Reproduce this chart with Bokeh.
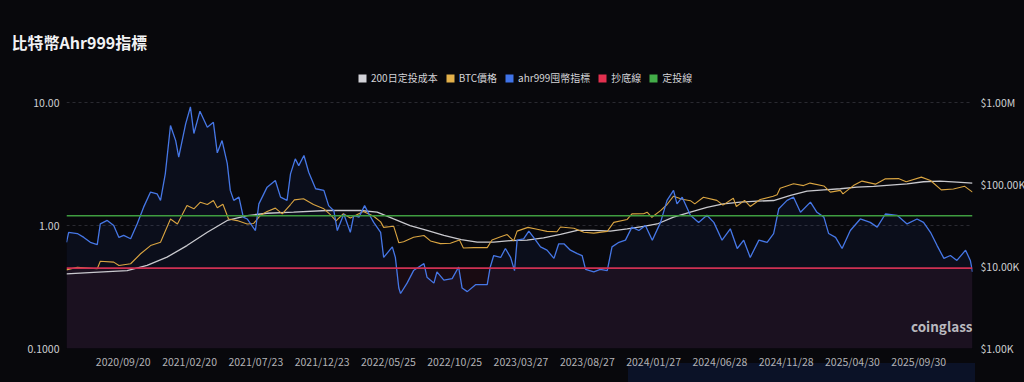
import math
import pandas as pd
from bokeh.plotting import figure
from bokeh.models import (Range1d, LogScale, LogAxis, FixedTicker, CustomJSTickFormatter,
                          DatetimeTickFormatter, Span, BoxAnnotation, Legend, LegendItem,
                          Label, ColumnDataSource)
from bokeh.embed import file_html
from bokeh.resources import INLINE

# ---------------- data ----------------
TITLE = "比特幣Ahr999指標"
LEGEND_LABELS = ["200日定投成本", "BTC價格", "ahr999囤幣指標", "抄底線", "定投線"]

X_START = "2020-05-12"
X_END = "2026-02-01"
TICK_DATES = ["2020-09-20", "2021-02-20", "2021-07-23", "2021-12-23", "2022-05-25",
              "2022-10-25", "2023-03-27", "2023-08-27", "2024-01-27", "2024-06-28",
              "2024-11-28", "2025-04-30", "2025-09-30"]
LEFT_TICKS = [0.1, 1, 10]
RIGHT_TICKS = [1e3, 1e4, 1e5, 1e6]

AHR_DATES = [
    "2020-05-12", "2020-05-17", "2020-06-06", "2020-06-21", "2020-07-06", "2020-07-22",
    "2020-07-29", "2020-08-14", "2020-08-29", "2020-09-10", "2020-09-21", "2020-10-07",
    "2020-10-22", "2020-11-06", "2020-11-22", "2020-12-07", "2020-12-15", "2020-12-26",
    "2021-01-07", "2021-01-19", "2021-01-26", "2021-02-11", "2021-02-22", "2021-03-02",
    "2021-03-16", "2021-04-02", "2021-04-16", "2021-04-25", "2021-05-06", "2021-05-18",
    "2021-05-25", "2021-06-02", "2021-06-14", "2021-06-24", "2021-07-03", "2021-07-22",
    "2021-07-30", "2021-08-18", "2021-09-06", "2021-09-18", "2021-10-03", "2021-10-11",
    "2021-10-22", "2021-10-30", "2021-11-11", "2021-11-22", "2021-12-08", "2021-12-27",
    "2022-01-07", "2022-01-19", "2022-01-27", "2022-02-11", "2022-02-26", "2022-03-06",
    "2022-03-18", "2022-03-31", "2022-04-10", "2022-04-21", "2022-05-07", "2022-05-14",
    "2022-06-03", "2022-06-10", "2022-06-18", "2022-06-22", "2022-07-07", "2022-07-22",
    "2022-08-03", "2022-08-15", "2022-08-22", "2022-09-07", "2022-09-14", "2022-09-30",
    "2022-10-19", "2022-11-03", "2022-11-11", "2022-11-23", "2022-12-12", "2023-01-08",
    "2023-01-15", "2023-01-23", "2023-02-08", "2023-02-19", "2023-03-03", "2023-03-12",
    "2023-03-18", "2023-04-02", "2023-04-14", "2023-04-25", "2023-05-11", "2023-05-26",
    "2023-06-11", "2023-06-22", "2023-07-04", "2023-07-19", "2023-08-04", "2023-08-15",
    "2023-08-23", "2023-09-11", "2023-09-26", "2023-10-12", "2023-10-23", "2023-11-08",
    "2023-11-23", "2023-12-08", "2023-12-24", "2024-01-08", "2024-01-24", "2024-02-12",
    "2024-02-27", "2024-03-13", "2024-03-21", "2024-04-02", "2024-04-21", "2024-05-10",
    "2024-05-29", "2024-06-14", "2024-07-03", "2024-07-22", "2024-08-07", "2024-08-22",
    "2024-09-06", "2024-09-26", "2024-10-15", "2024-10-30", "2024-11-11", "2024-11-30",
    "2024-12-15", "2024-12-31", "2025-01-23", "2025-02-07", "2025-02-23", "2025-03-06",
    "2025-03-22", "2025-04-06", "2025-04-25", "2025-05-18", "2025-06-10", "2025-06-26",
    "2025-07-15", "2025-08-11", "2025-09-03", "2025-09-26", "2025-10-11", "2025-10-27",
    "2025-11-11", "2025-11-27", "2025-12-12", "2025-12-27", "2026-01-16", "2026-01-27",
    "2026-02-01"]
AHR_VALUES = [
    0.73, 0.88, 0.86, 0.80, 0.73, 0.70,
    1.03, 1.10, 1.00, 0.80, 0.83, 0.78,
    1.03, 1.41, 1.87, 1.81, 1.60, 2.63,
    6.5, 4.9, 3.6, 6.7, 9.2, 5.6,
    8.5, 6.3, 6.9, 3.9, 4.9, 3.2,
    1.93, 1.60, 1.70, 1.17, 1.13, 0.91,
    1.50, 2.05, 2.32, 1.70, 1.60, 2.63,
    3.48, 3.07, 3.71, 2.71, 1.99, 1.93,
    1.45, 1.32, 0.91, 1.24, 0.88, 1.21,
    1.17, 1.45, 1.24, 1.06, 0.88, 0.55,
    0.67, 0.55, 0.31, 0.28, 0.34, 0.43,
    0.46, 0.49, 0.38, 0.34, 0.42, 0.36,
    0.37, 0.46, 0.31, 0.29, 0.33, 0.33,
    0.46, 0.57, 0.55, 0.65, 0.55, 0.43,
    0.76, 0.78, 0.90, 0.80, 0.67, 0.63,
    0.54, 0.71, 0.71, 0.63, 0.59, 0.57,
    0.44, 0.42, 0.44, 0.43, 0.67, 0.73,
    0.76, 0.97, 0.91, 1.00, 0.76, 1.06,
    1.60, 1.93, 1.50, 1.70, 1.21, 1.06,
    1.21, 1.06, 0.76, 0.94, 0.65, 0.76,
    0.55, 0.76, 0.73, 0.86, 1.37, 1.60,
    1.70, 1.28, 1.55, 1.28, 1.17, 0.86,
    0.80, 0.65, 0.91, 1.13, 1.06, 0.97,
    1.24, 1.21, 1.03, 1.13, 1.06, 0.88,
    0.69, 0.54, 0.57, 0.52, 0.63, 0.52,
    0.42]

BTC_DATES = [
    "2020-05-12", "2020-06-06", "2020-07-22", "2020-07-29", "2020-08-29", "2020-09-10",
    "2020-10-07", "2020-10-30", "2020-11-22", "2020-12-15", "2021-01-07", "2021-01-23",
    "2021-02-14", "2021-03-02", "2021-03-17", "2021-04-02", "2021-04-16", "2021-04-25",
    "2021-05-08", "2021-05-21", "2021-06-10", "2021-07-03", "2021-07-18", "2021-08-02",
    "2021-08-18", "2021-09-06", "2021-09-22", "2021-10-11", "2021-10-20", "2021-11-10",
    "2021-12-03", "2021-12-27", "2022-01-11", "2022-01-24", "2022-02-10", "2022-02-26",
    "2022-03-28", "2022-04-21", "2022-05-07", "2022-05-14", "2022-06-06", "2022-06-18",
    "2022-06-29", "2022-07-22", "2022-08-15", "2022-08-30", "2022-09-22", "2022-10-15",
    "2022-11-05", "2022-11-14", "2022-12-08", "2023-01-08", "2023-01-19", "2023-02-08",
    "2023-02-23", "2023-03-10", "2023-03-18", "2023-04-12", "2023-05-03", "2023-05-26",
    "2023-06-18", "2023-06-26", "2023-07-27", "2023-08-19", "2023-09-11", "2023-10-12",
    "2023-10-27", "2023-11-27", "2023-12-08", "2024-01-04", "2024-01-12", "2024-01-23",
    "2024-02-12", "2024-02-27", "2024-03-13", "2024-04-02", "2024-04-21", "2024-05-01",
    "2024-05-21", "2024-06-21", "2024-07-05", "2024-07-29", "2024-08-05", "2024-08-24",
    "2024-09-06", "2024-09-29", "2024-10-29", "2024-11-07", "2024-11-14", "2024-12-15",
    "2025-01-07", "2025-01-22", "2025-02-23", "2025-03-10", "2025-04-02", "2025-04-08",
    "2025-05-02", "2025-05-22", "2025-06-22", "2025-07-14", "2025-08-14", "2025-09-01",
    "2025-10-06", "2025-10-27", "2025-11-21", "2025-12-19", "2026-01-14", "2026-02-01"]
BTC_PRICES = [
    9100, 9800, 9400, 11600, 11300, 10300,
    10800, 14300, 18000, 19800, 38000, 33000,
    55500, 50500, 60800, 57000, 63800, 52000,
    57500, 38000, 36300, 33000, 33500, 41800,
    47000, 51500, 43800, 57000, 65000, 67000,
    57000, 50500, 43000, 36000, 44000, 39000,
    47000, 41000, 35000, 30000, 31000, 19500,
    20000, 22700, 23900, 20500, 19000, 19200,
    21000, 16800, 17000, 17000, 21000, 23000,
    24500, 20500, 27000, 30000, 28500, 26800,
    26500, 30300, 29300, 26200, 25500, 26800,
    34500, 37500, 43800, 44000, 46000, 39800,
    48000, 57000, 72000, 66000, 63500, 58000,
    70000, 64000, 56000, 68000, 54000, 64000,
    54000, 65500, 72000, 75000, 90000, 102000,
    97000, 104000, 96000, 80800, 84700, 77000,
    97000, 110000, 101000, 117000, 118000, 108000,
    123000, 112000, 86000, 88000, 95000, 80800]

COST_DATES = [
    "2020-05-12", "2020-07-14", "2020-09-29", "2020-11-14", "2020-12-30", "2021-02-14",
    "2021-04-02", "2021-05-18", "2021-07-03", "2021-08-18", "2021-10-18", "2022-01-03",
    "2022-03-21", "2022-04-29", "2022-06-06", "2022-07-14", "2022-08-22", "2022-09-30",
    "2022-11-09", "2022-12-16", "2023-01-23", "2023-03-03", "2023-04-10", "2023-05-18",
    "2023-06-26", "2023-08-04", "2023-09-11", "2023-10-19", "2023-11-27", "2024-01-04",
    "2024-02-04", "2024-03-13", "2024-04-21", "2024-05-29", "2024-07-06", "2024-08-14",
    "2024-09-22", "2024-10-30", "2024-12-08", "2025-01-15", "2025-02-23", "2025-04-02",
    "2025-05-10", "2025-06-18", "2025-07-26", "2025-09-03", "2025-10-11", "2025-11-18",
    "2025-12-27", "2026-02-01"]
COST_VALUES = [
    8150, 8500, 8930, 10300, 13000, 18000,
    26200, 36400, 41800, 44600, 46000, 48200,
    48200, 46000, 38000, 31600, 27500, 23900,
    21300, 19800, 19800, 20700, 21000, 22400,
    24600, 27500, 27500, 27000, 28800, 30900,
    33000, 40000, 46000, 52700, 58000, 60800,
    62600, 63800, 73500, 83000, 86000, 88700,
    92700, 95000, 98500, 102000, 108000, 110000,
    107000, 104000]

BOTTOM_LINE = 0.45   # 抄底線
DCA_LINE = 1.2       # 定投線

# ---------------- styling / layout ----------------
BG = "#08080c"
NAV_BG = "#0b1227"
FONT = "Noto Sans CJK TC"
C_COST = "#c9c9ce"
C_BTC = "#d9a441"
C_AHR = "#4677e6"
C_RED = "#cf3153"
C_GREEN = "#3f9d40"
LEG_COLORS = ["#d2d2d8", "#e3b04a", "#3f73e8", "#e3304f", "#43ad49"]

DATA_H = 246          # pixel height of the 0.1..10 band
FRAME_H = 290         # frame extends above the data band so the legend fits inside
FRAME_W = 906
ext = FRAME_H / DATA_H

x0 = pd.Timestamp(X_START)
x1 = pd.Timestamp(X_END)

p = figure(frame_width=FRAME_W, frame_height=FRAME_H, x_axis_type="datetime", y_axis_type="log",
           x_range=Range1d(x0, x1),
           y_range=Range1d(LEFT_TICKS[0], LEFT_TICKS[0] * (LEFT_TICKS[-1] / LEFT_TICKS[0]) ** ext),
           title=TITLE, output_backend="svg", toolbar_location=None,
           background_fill_color=BG, border_fill_color=BG, border_fill_alpha=0,
           outline_line_color=None,
           min_border_left=66, min_border_right=52, min_border_top=58, min_border_bottom=34)
# page-level backdrop (also shows the partially visible data-zoom strip at the bottom right)
p.styles = {"background": f"linear-gradient({NAV_BG}, {NAV_BG}) 628px 363px / 347px 19px no-repeat, {BG}"}
p.extra_y_ranges = {"usd": Range1d(RIGHT_TICKS[0],
                                   RIGHT_TICKS[0] * (RIGHT_TICKS[-1] / RIGHT_TICKS[0]) ** ext)}
p.extra_y_scales = {"usd": LogScale()}

p.title.align = "left"
p.title.offset = -55
p.title.standoff = 9
p.title.text_font = FONT
p.title.text_font_style = "bold"
p.title.text_font_size = "16px"
p.title.text_color = "#f2f2f4"


def style_axis(ax, standoff, color):
    ax.axis_line_color = None
    ax.major_tick_line_color = None
    ax.minor_tick_line_color = None
    ax.major_tick_out = 0
    ax.major_tick_in = 0
    ax.minor_tick_out = 0
    ax.minor_tick_in = 0
    ax.major_label_standoff = standoff
    ax.major_label_text_font = FONT
    ax.major_label_text_font_size = "10.5px"
    ax.major_label_text_color = color


ly = p.yaxis[0]
ly.ticker = FixedTicker(ticks=LEFT_TICKS)
ly.formatter = CustomJSTickFormatter(code="return tick >= 1 ? tick.toFixed(2) : tick.toFixed(4);")
style_axis(ly, 7, "#cfcfd2")

ry = LogAxis(y_range_name="usd", ticker=FixedTicker(ticks=RIGHT_TICKS),
             formatter=CustomJSTickFormatter(code=(
                 "if (tick >= 1e6) { return '$' + (tick/1e6).toFixed(2) + 'M'; }"
                 "return '$' + (tick/1e3).toFixed(2) + 'K';")))
style_axis(ry, 8, "#cfcfd2")
p.add_layout(ry, "right")

xa = p.xaxis[0]
xa.ticker = FixedTicker(ticks=[pd.Timestamp(d).value // 10**6 for d in TICK_DATES])
fmt = "%Y/%m/%d"
xa.formatter = DatetimeTickFormatter(milliseconds=fmt, seconds=fmt, minsec=fmt, minutes=fmt,
                                     hourmin=fmt, hours=fmt, days=fmt, months=fmt, years=fmt)
style_axis(xa, 5, "#b2b2b6")

p.xgrid.visible = False
p.ygrid.grid_line_color = "#2a2a31"
p.ygrid.grid_line_dash = "3 3"
p.ygrid.grid_line_width = 1

p.add_layout(BoxAnnotation(top=BOTTOM_LINE, fill_color="#c8285a", fill_alpha=0.09,
                           line_color=None, level="underlay"))

ahr_src = ColumnDataSource(dict(x=pd.to_datetime(AHR_DATES), y=AHR_VALUES))
btc_src = ColumnDataSource(dict(x=pd.to_datetime(BTC_DATES), y=BTC_PRICES))
cost_src = ColumnDataSource(dict(x=pd.to_datetime(COST_DATES), y=COST_VALUES))

p.varea(x="x", y1=LEFT_TICKS[0], y2="y", source=ahr_src, fill_color="#3c64dc", fill_alpha=0.07)
p.line("x", "y", source=cost_src, y_range_name="usd", line_color=C_COST, line_width=1.3)
p.line("x", "y", source=btc_src, y_range_name="usd", line_color=C_BTC, line_width=1.1)
p.line("x", "y", source=ahr_src, line_color=C_AHR, line_width=1.3)

p.add_layout(Span(location=BOTTOM_LINE, dimension="width", line_color=C_RED, line_width=1.6))
p.add_layout(Span(location=DCA_LINE, dimension="width", line_color=C_GREEN, line_width=1.3))

# legend with square swatches (swatch renderers hold a single NaN row: nothing drawn in the plot)
nan = math.nan
items = []
for lab, col in zip(LEGEND_LABELS, LEG_COLORS):
    r = p.quad(left=[nan], right=[nan], top=[nan], bottom=[nan], fill_color=col, line_color=None)
    items.append(LegendItem(label=lab, renderers=[r]))
leg = Legend(items=items, orientation="horizontal", location=(291, 263),
             glyph_width=10, glyph_height=10, label_height=10, label_standoff=4,
             spacing=7, padding=0, margin=0, border_line_color=None,
             background_fill_alpha=0, label_text_font=FONT,
             label_text_font_size="10px", label_text_color="#d4d4d8")
p.add_layout(leg, "center")

# watermark
p.add_layout(Label(x=906, y=23, x_units="screen", y_units="screen", text="coinglass",
                   text_font=FONT, text_font_style="bold", text_font_size="13.5px",
                   text_color="#b9b9be", text_baseline="middle", text_align="right"))

open("out.html", "w").write(file_html(p, INLINE))
